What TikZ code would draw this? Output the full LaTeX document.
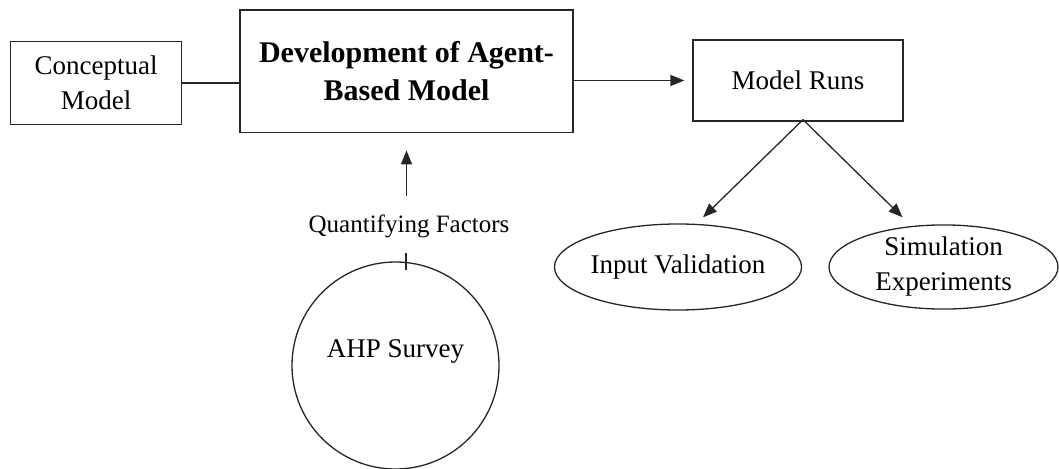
\documentclass[tikz,border=0pt]{standalone}
\usepackage{fontspec}
\setmainfont{Liberation Serif}
\usetikzlibrary{arrows.meta,shapes.geometric}
\colorlet{linec}{black!85}
\begin{document}
\begin{tikzpicture}[x=1pt,y=-1pt,line width=1.3pt,
  txt/.style={font=\fontsize{27}{35}\selectfont, align=center, inner sep=0pt},
  boxnode/.style={draw=linec, rectangle, txt},
  oval/.style={draw=linec, ellipse, txt},
  conn/.style={draw=linec},
  arr/.style={draw=linec, -{Triangle[length=14pt,width=11pt]}},
]
\useasboundingbox (0,0) rectangle (1059,468);

% main blocks
\node[boxnode, minimum width=171pt, minimum height=82.6pt] (conc) at (96.2,83) {Conceptual\\Model};
\node[boxnode, font=\fontsize{30}{38}\selectfont\bfseries,
      minimum width=333pt, minimum height=122.7pt] (dev) at (406.5,71.4) {Development of Agent-\\Based Model};
\node[boxnode, minimum width=210pt, minimum height=81pt] (runs) at (798,80.5) {Model Runs};

% outcomes of the model runs
\node[oval, minimum width=234pt, minimum height=86pt] (inval) at (678,267) {Input Validation};
\node[oval, minimum width=229pt, minimum height=84pt] (sim) at (943.5,267) {Simulation\\Experiments};

% survey feeding the model
\node[draw=linec, circle, minimum size=207pt, inner sep=0pt,
      label={[txt, yshift=14.5pt]center:AHP Survey}] (ahp) at (395.5,365.5) {};
\node[txt, font=\fontsize{25}{30}\selectfont] (qf) at (409,226) {Quantifying Factors};

% connectors
\draw[conn] (conc.east) -- (conc.east -| dev.west);
\draw[arr, shorten >=8pt] (dev.east |- runs.west) -- (runs.west);

\coordinate (fork) at ([xshift=5pt,yshift=2pt]runs.south);
\draw[arr] (fork) -- ([xshift=25pt,yshift=6pt]inval.north);
\draw[arr] (fork) -- ([xshift=-41pt,yshift=7pt]sim.north);

\coordinate (uptail) at ([yshift=18pt]qf.north);
\draw[arr] (uptail -| dev.south) -- ([yshift=-17pt]dev.south);

\coordinate (tickA) at (406,253);
\coordinate (tickB) at (406,270);
\draw[conn] (tickA) -- (tickB);
\end{tikzpicture}
\end{document}
